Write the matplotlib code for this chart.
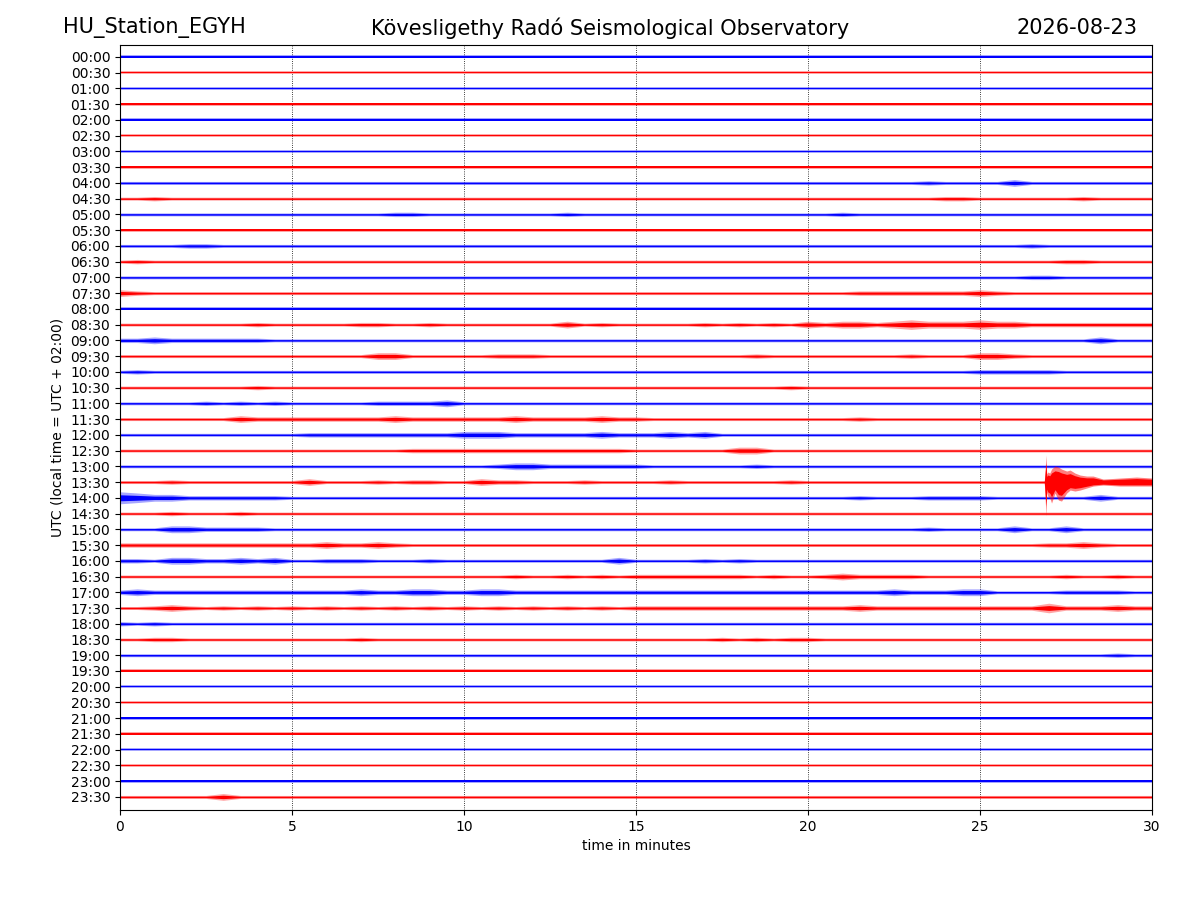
import numpy as np
import matplotlib
matplotlib.use("Agg")
import matplotlib.pyplot as plt

# helicorder of one day, 48 rows of 30 minutes each
station = "HU_Station_EGYH"
observatory = "Kövesligethy Radó Seismological Observatory"
day = "2026-08-23"

row_labels = [
    "00:00", "00:30", "01:00", "01:30", "02:00", "02:30", "03:00", "03:30",
    "04:00", "04:30", "05:00", "05:30", "06:00", "06:30", "07:00", "07:30",
    "08:00", "08:30", "09:00", "09:30", "10:00", "10:30", "11:00", "11:30",
    "12:00", "12:30", "13:00", "13:30", "14:00", "14:30", "15:00", "15:30",
    "16:00", "16:30", "17:00", "17:30", "18:00", "18:30", "19:00", "19:30",
    "20:00", "20:30", "21:00", "21:30", "22:00", "22:30", "23:00", "23:30",
]

# envelope level per half minute (61 samples, 0..30 min)
# 1 = background noise, higher digits = bursts
Q = "1111111111"
envelope_rows = [
    f"{Q} {Q} {Q} {Q} {Q} {Q} 1",                                               # 00:00
    f"{Q} {Q} {Q} {Q} {Q} {Q} 1",
    f"{Q} {Q} {Q} {Q} {Q} {Q} 1",
    f"{Q} {Q} {Q} {Q} {Q} {Q} 1",
    f"{Q} {Q} {Q} {Q} {Q} {Q} 1",
    f"{Q} {Q} {Q} {Q} {Q} {Q} 1",
    f"{Q} {Q} {Q} {Q} {Q} {Q} 1",
    f"{Q} {Q} {Q} {Q} {Q} {Q} 1",
    f"{Q} {Q} {Q} {Q} 1111111211 1131111111 1",                                 # 04:00
    f"1121111111 {Q} {Q} {Q} 1111111122 1111112111 1",
    f"{Q} 1111112211 1111112111 {Q} 1121111111 {Q} 1",
    f"{Q} {Q} {Q} {Q} {Q} {Q} 1",
    f"1111221111 {Q} {Q} {Q} {Q} 1112111111 1",                                 # 06:00
    f"1211111111 {Q} {Q} {Q} {Q} 1111122111 1",
    f"{Q} {Q} {Q} {Q} {Q} 1112211111 1",
    f"3211111111 {Q} {Q} {Q} 1112222222 3211111111 1",
    f"{Q} {Q} {Q} {Q} {Q} {Q} 1",                                               # 08:00
    "1111111121 1111221121 1111113121 1111212121 3233234333 4332222222 2",
    f"2232222221 {Q} {Q} {Q} {Q} 1111111311 1",
    f"{Q} 1111133111 1122211111 1111111211 1111112111 3321111111 1",
    f"1211111111 {Q} {Q} {Q} {Q} 2222211111 1",                                 # 10:00
    f"1111111121 {Q} {Q} 1111111112 {Q} {Q} 1",
    f"1111121212 1111122223 {Q} {Q} {Q} {Q} 1",
    f"1111111322 2222223222 2223222232 2111111111 1112111111 {Q} 1",
    f"{Q} 1222222222 3332222232 2232311111 {Q} {Q} 1",                          # 12:00
    f"{Q} 1111111222 2222222222 1111113311 {Q} {Q} 1",
    f"{Q} {Q} 1123322222 2111111211 {Q} {Q} 1",
    f"1112111111 1311121221 1322111211 1121111112 {Q} {Q} 1",
    f"5433222222 {Q} {Q} {Q} 1112111222 2111111311 1",                          # 14:00
    f"1112111211 {Q} {Q} {Q} {Q} {Q} 1",
    f"1113322221 {Q} {Q} {Q} 1111111211 1131131111 1",
    f"2222222222 2232232111 {Q} {Q} {Q} 1111223211 1",
    f"2213322323 1122211121 1111111113 1111212111 {Q} {Q} 1",                   # 16:00
    f"{Q} {Q} 1112112121 2222222121 1232222111 1111121121 1",
    "2322222222 2222322332 2332222222 2222222222 2222232223 3111122221 1",
    "1123212121 2121212121 2121212121 2222222222 2223222222 2222422232 2",
    f"2121111111 {Q} {Q} {Q} {Q} {Q} 1",                                        # 18:00
    f"1122111111 1111211111 {Q} 1111121212 2111111111 {Q} 1",
    f"{Q} {Q} {Q} {Q} {Q} 1111111121 1",
    f"{Q} {Q} {Q} {Q} {Q} {Q} 1",
    f"{Q} {Q} {Q} {Q} {Q} {Q} 1",                                               # 20:00
    f"{Q} {Q} {Q} {Q} {Q} {Q} 1",
    f"{Q} {Q} {Q} {Q} {Q} {Q} 1",
    f"{Q} {Q} {Q} {Q} {Q} {Q} 1",
    f"{Q} {Q} {Q} {Q} {Q} {Q} 1",                                               # 22:00
    f"{Q} {Q} {Q} {Q} {Q} {Q} 1",
    f"{Q} {Q} {Q} {Q} {Q} {Q} 1",
    f"1111113111 {Q} {Q} {Q} {Q} {Q} 1",
]
level_px = [0.0, 1.5, 2.2, 3.4, 4.8, 6.0]   # half amplitude in pixels per level

# earthquake in the 13:30 row (minutes, pixels above / below the trace)
event_row = 27
event_t = [26.87, 26.92, 26.94, 26.97, 27.03, 27.08, 27.18, 27.28, 27.37, 27.52,
           27.62, 27.76, 27.91, 28.10, 28.29, 28.58, 29.07, 29.55, 30.00]
event_up = [1, 27, 8, 10, 9, 13, 16, 15, 13, 11, 12, 9, 7, 6, 6, 3, 4, 5, 4]
event_dn = [1, 34, 10, 14, 16, 21, 11, 18, 19, 11, 8, 9, 8, 6, 4, 3, 4, 4, 4]

colors = ["#0000ff", "#ff0000"]
px_per_row = 15.74

fig = plt.figure(figsize=(12, 9), dpi=100)
ax = fig.add_axes([0.1, 0.1, 0.86, 0.85])

t_env = np.arange(61) * 0.5
for r, s in enumerate(envelope_rows):
    lev = [level_px[int(c)] for c in s.replace(" ", "")]
    amp = np.array(lev) / px_per_row
    c = colors[r % 2]
    ax.fill_between(t_env, r - amp, r + amp, color=c, alpha=0.35, lw=0)
    ax.fill_between(t_env, r - 0.5 * amp, r + 0.5 * amp, color=c, alpha=1.0, lw=0)

up = np.array(event_up) / px_per_row
dn = np.array(event_dn) / px_per_row
ax.fill_between(event_t, event_row - up, event_row + dn, color="#ff0000", alpha=0.5, lw=0)
ax.fill_between(event_t, event_row - 0.7 * up, event_row + 0.7 * dn,
                color="#ff0000", alpha=1.0, lw=0)

ax.set_xlim(0, 30)
ax.set_ylim(47.83, -0.76)
ax.set_xticks([0, 5, 10, 15, 20, 25, 30])
ax.set_yticks(range(len(row_labels)))
ax.set_yticklabels(row_labels)
ax.grid(axis="x", linestyle=":", color="k", linewidth=0.6)
ax.set_axisbelow(True)
ax.set_xlabel("time in minutes")
ax.set_ylabel("UTC (local time = UTC + 02:00)")

fig.text(63 / 1200, 1 - 28 / 900, station, fontsize=15, ha="left", va="center")
fig.text(610 / 1200, 1 - 28 / 900, observatory, fontsize=15, ha="center", va="center")
fig.text(1137 / 1200, 1 - 28 / 900, day, fontsize=15, ha="right", va="center")

fig.savefig("out.png", dpi=100)
